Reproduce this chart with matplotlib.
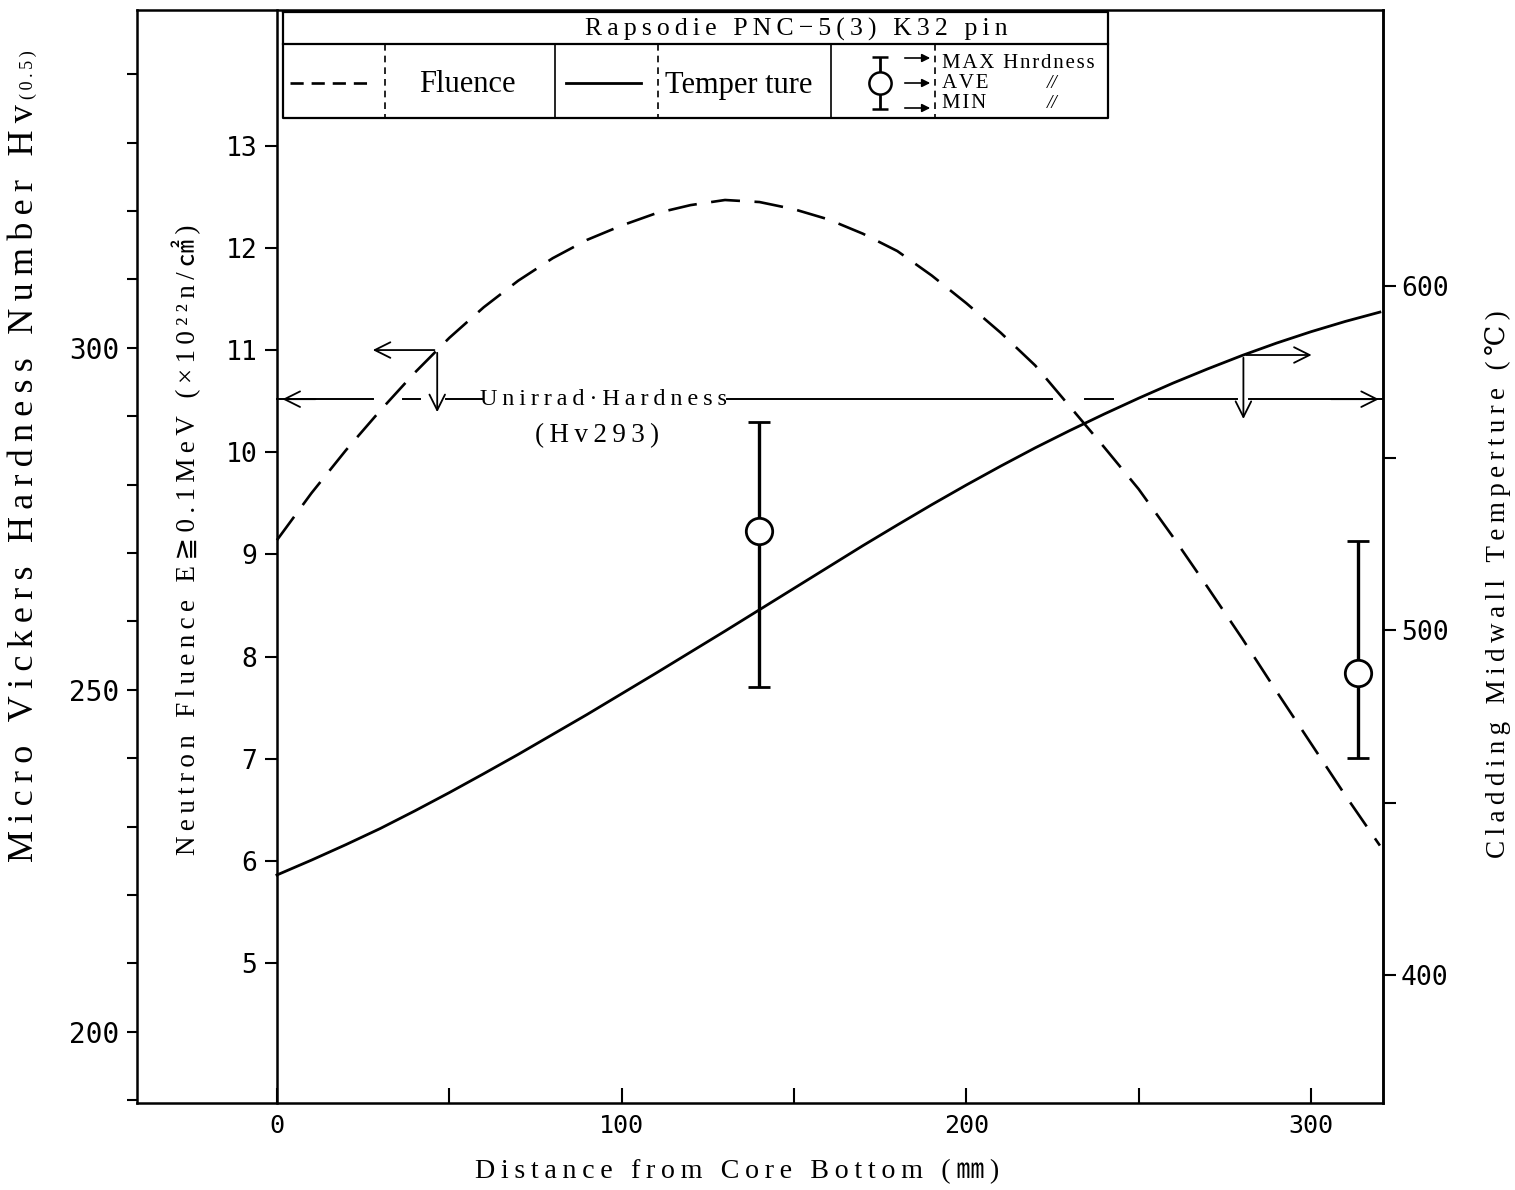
import numpy as np
import matplotlib
matplotlib.use("Agg")
import matplotlib.pyplot as plt

# ---- data ----
dist = [0, 10, 20, 30, 40, 50, 60, 70, 80, 90, 100, 110, 120, 130, 140, 150, 160,
        170, 180, 190, 200, 210, 220, 230, 240, 250, 260, 270, 280, 290, 300, 310, 320]
fluence = [9.14, 9.60, 10.02, 10.41, 10.78, 11.12, 11.42, 11.68, 11.90, 12.08, 12.22,
           12.34, 12.42, 12.47, 12.45, 12.38, 12.28, 12.14, 11.97, 11.73, 11.46, 11.17,
           10.85, 10.45, 10.05, 9.64, 9.17, 8.68, 8.18, 7.66, 7.15, 6.64, 6.15]
temperature = [429.0, 433.3, 437.8, 442.5, 447.6, 452.9, 458.4, 464.0, 469.8, 475.6,
               481.6, 487.6, 493.7, 499.8, 506.0, 512.2, 518.4, 524.6, 530.6, 536.5,
               542.2, 547.7, 553.0, 558.0, 562.8, 567.4, 571.8, 575.9, 579.8, 583.4,
               586.7, 589.7, 592.4]

hv_dist = [140, 313.6]
hv_max = [289.2, 271.7]
hv_ave = [273.2, 252.5]
hv_min = [250.4, 240.0]

unirrad_hv = 292.5

W, H = 1515, 1190
SERIF = ['Liberation Serif', 'DejaVu Serif', 'DejaVu Sans', 'Noto Sans CJK JP']
NUM = 'DejaVu Sans Mono'
plt.rcParams['font.family'] = SERIF


def spaced(s, sp='\u2009'):
    # wide letter spacing like the typed original
    return sp.join(s)


fig = plt.figure(figsize=(W / 100, H / 100), dpi=100)
L, R, T, B = 137, 1383, 10, 1103
ax = fig.add_axes([L / W, 1 - B / H, (R - L) / W, (B - T) / H])

ax.set_xlim(-40.6, 320.9)
ax.set_ylim(189.6, 349.4)
for s in ax.spines.values():
    s.set_linewidth(1.8)
ax.set_xticks(np.arange(0, 301, 50))
ax.set_xticklabels(['0', '', '100', '', '200', '', '300'])
ax.tick_params(axis='x', direction='in', length=11, width=1.5, pad=8,
               labelsize=18)
ax.set_yticks(np.arange(190, 341, 10))
ax.set_yticklabels([str(v) if v % 50 == 0 else '' for v in range(190, 341, 10)])
ax.tick_params(axis='y', direction='out', length=7, width=1.5, pad=6,
               labelsize=20)
for lbl in ax.get_xticklabels() + ax.get_yticklabels():
    lbl.set_family(NUM)

# fluence axis: spine at x = 0
axf = ax.twinx()
axf.set_ylim(3.63, 14.33)
for k in ['top', 'bottom', 'right']:
    axf.spines[k].set_visible(False)
axf.spines['left'].set_position(('data', 0))
axf.spines['left'].set_linewidth(1.8)
axf.yaxis.set_ticks_position('left')
axf.set_yticks(range(5, 14))
axf.tick_params(axis='y', direction='out', length=9, width=1.5, pad=5,
                labelsize=19)
for lbl in axf.get_yticklabels():
    lbl.set_family(NUM)

# temperature axis on the right
axt = ax.twinx()
axt.set_ylim(362.8, 680.1)
for k in ['top', 'bottom', 'left']:
    axt.spines[k].set_visible(False)
axt.spines['right'].set_linewidth(1.8)
axt.set_yticks(range(400, 601, 50))
axt.set_yticklabels([str(v) if v % 100 == 0 else '' for v in range(400, 601, 50)])
axt.tick_params(axis='y', direction='out', length=9, width=1.5, pad=4,
                labelsize=19)
for lbl in axt.get_yticklabels():
    lbl.set_family(NUM)

# curves
axf.plot(dist, fluence, color='k', lw=1.9, dashes=(11, 5.5))
axt.plot(dist, temperature, color='k', lw=2.0)

# hardness points
ave = np.array(hv_ave)
ax.errorbar(hv_dist, hv_ave, yerr=[ave - np.array(hv_min), np.array(hv_max) - ave],
            fmt='o', ms=19, mfc='white', mec='k', mew=2.0, ecolor='k',
            elinewidth=2.4, capsize=8, capthick=2.0, zorder=5)

# unirradiated hardness line (with the breaks of the original)
for x0, x1 in [(0, 28), (36.5, 41.5), (49, 59.5), (130.5, 225), (234.5, 242.5),
               (253, 278.5), (282, 320.9)]:
    ax.plot([x0, x1], [unirrad_hv, unirrad_hv], color='k', lw=1.4)
arr = dict(arrowstyle='->', color='k', lw=1.3, mutation_scale=28)
ax.annotate('', xy=(0.8, unirrad_hv), xytext=(12, unirrad_hv), arrowprops=arr)
ax.annotate('', xy=(320.5, unirrad_hv), xytext=(305, unirrad_hv), arrowprops=arr)
ax.text(94.8, unirrad_hv, spaced('Unirrad\u00b7Hardness'), ha='center', va='center',
        fontsize=17.5)
ax.text(93.0, unirrad_hv - 5.3, spaced('(Hv293)'), ha='center', va='center',
        fontsize=19.5)

# pointer arrows
fx = 46.5
fy = float(np.interp(fx, dist, fluence))
axf.annotate('', xy=(27, fy), xytext=(fx, fy), arrowprops=arr)
axf.annotate('', xy=(fx, 290.2), xycoords=ax.transData, xytext=(fx, fy),
             textcoords=axf.transData, arrowprops=arr)
tx = 280.4
ty = float(np.interp(tx, dist, temperature))
axt.annotate('', xy=(301, ty), xytext=(tx, ty), arrowprops=arr)
axt.annotate('', xy=(tx, 289.2), xycoords=ax.transData, xytext=(tx, ty),
             textcoords=axt.transData, arrowprops=arr)

# axis titles
hv_lbl = fig.text(25 / W, 1 - 862 / H, spaced('Micro Vickers Hardness Number Hv'),
                  rotation=90, ha='center', va='bottom', fontsize=26)
renderer = fig.canvas.get_renderer()
bb = hv_lbl.get_window_extent(renderer)
fig.text(28 / W, (bb.y1 + 5) / H, spaced('(0.5)'), rotation=90, ha='center',
         va='bottom', fontsize=13)
fig.text(186 / W, 1 - 540 / H,
         spaced('Neutron Fluence E\u22670.1MeV (\u00d710\u00b2\u00b2n/\u33a0)'),
         rotation=90, ha='center', va='center', fontsize=19.5)
fig.text(1498 / W, 1 - 584 / H, spaced('Cladding Midwall Temperture (\u2103)'),
         rotation=90, ha='center', va='center', fontsize=19.5)
fig.text(737 / W, 1 - 1172 / H, spaced('Distance from Core Bottom (\u339c)'),
         ha='center', va='center', fontsize=20.2)

# ---- legend table drawn in pixel space ----
axo = fig.add_axes([0, 0, 1, 1], zorder=5)
axo.set_xlim(0, W)
axo.set_ylim(H, 0)
axo.axis('off')
axo.patch.set_visible(False)
x0, x1, y0, y1, y2 = 283, 1108, 12, 44, 118
axo.fill([x0, x1, x1, x0], [y0, y0, y2, y2], color='white', zorder=0)
axo.plot([x0, x1, x1, x0, x0], [y0, y0, y2, y2, y0], color='k', lw=1.6)
axo.plot([x0, x1], [y1, y1], color='k', lw=1.6)
for xv in [555, 831]:
    axo.plot([xv, xv], [y1, y2], color='k', lw=1.2)
for xv in [385, 658, 935]:
    axo.plot([xv, xv], [y1, y2], color='k', lw=1.2, dashes=(4, 3))
axo.text(796, 29, spaced('Rapsodie PNC\u22125(3) K32 pin'), ha='center', va='center',
         fontsize=18.5)
axo.plot([290, 374], [83, 83], color='k', lw=1.9, dashes=(5, 3))
axo.text(467, 84, 'Fluence', ha='center', va='center', fontsize=22)
axo.plot([566, 641], [83, 83], color='k', lw=2.0)
axo.text(739, 86, 'Temper ture', ha='center', va='center', fontsize=22)
axo.errorbar([880], [83], yerr=[[26], [26]], fmt='o', ms=16, mfc='white', mec='k',
             mew=1.8, ecolor='k', elinewidth=2.0, capsize=6, capthick=1.8)
small_arr = dict(arrowstyle='-|>', color='k', lw=1.2, mutation_scale=12)
for yv in [58, 83, 108]:
    axo.annotate('', xy=(933, yv), xytext=(902, yv), arrowprops=small_arr)
axo.text(942, 64, spaced('MAX Hnrdness', '\u200a'), ha='left', va='center', fontsize=15)
axo.text(942, 84, spaced('AVE', '\u200a'), ha='left', va='center', fontsize=15)
axo.text(942, 103, spaced('MIN', '\u200a'), ha='left', va='center', fontsize=15)
axo.text(1052, 84, '//', ha='center', va='center', fontsize=14, style='italic')
axo.text(1052, 103, '//', ha='center', va='center', fontsize=14, style='italic')

fig.savefig('out.png', dpi=100, facecolor='white')
